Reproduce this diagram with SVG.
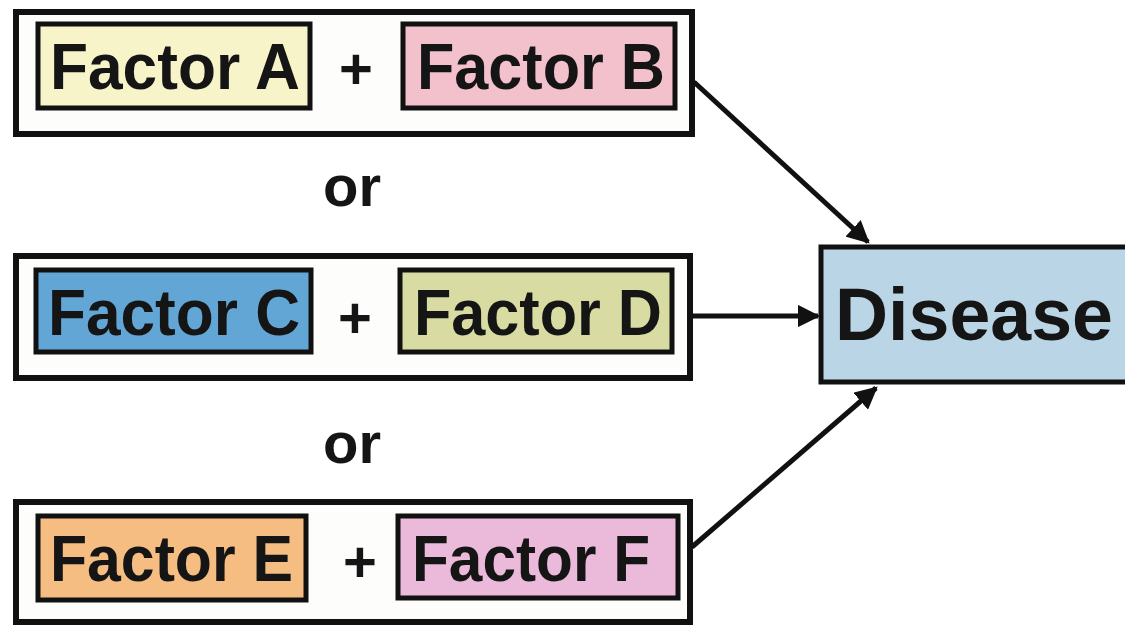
<svg xmlns="http://www.w3.org/2000/svg" width="1125" height="626" viewBox="0 0 1125 626">
<defs>
<style>
.outer{fill:#fdfdfb;stroke:#111;stroke-width:6}
.inner{stroke:#111;stroke-width:5}
.t{font-family:"Liberation Sans",Arial,sans-serif;font-weight:bold;fill:#151515}
.f{font-size:65px}
.op{font-size:58px;text-anchor:middle}
.conn{stroke:#111;stroke-width:5;fill:none;marker-end:url(#ah)}
</style>
<marker id="ah" viewBox="0 0 10 10" refX="9" refY="5" markerWidth="4.5" markerHeight="4.5" orient="auto" markerUnits="strokeWidth">
<path d="M0,0 L10,5 L0,10 z" fill="#111"/>
</marker>
</defs>
<rect width="1125" height="626" fill="#ffffff"/>
<g id="group1">
<rect class="outer" x="16" y="12" width="676" height="122"/>
<rect class="inner" x="38" y="24" width="272" height="84" fill="#f7f4c9"/>
<rect class="inner" x="403" y="24" width="272" height="84" fill="#f2c1cc"/>
<text class="t f" x="50" y="89" textLength="250" lengthAdjust="spacingAndGlyphs">Factor A</text>
<text class="t op" x="356" y="89">+</text>
<text class="t f" x="417" y="89" textLength="248" lengthAdjust="spacingAndGlyphs">Factor B</text>
</g>
<g id="or1"><text class="t op" x="352" y="206">or</text></g>
<g id="group2">
<rect class="outer" x="16" y="256" width="674" height="122"/>
<rect class="inner" x="36" y="270" width="275" height="82" fill="#62a6d6"/>
<rect class="inner" x="400" y="270" width="272" height="82" fill="#d8dca2"/>
<text class="t f" x="48" y="335" textLength="252" lengthAdjust="spacingAndGlyphs">Factor C</text>
<text class="t op" x="355" y="338">+</text>
<text class="t f" x="414" y="335" textLength="248" lengthAdjust="spacingAndGlyphs">Factor D</text>
</g>
<g id="or2"><text class="t op" x="352" y="463">or</text></g>
<g id="group3">
<rect class="outer" x="16" y="502" width="674" height="120"/>
<rect class="inner" x="38" y="516" width="268" height="84" fill="#f5bd82"/>
<rect class="inner" x="398" y="516" width="280" height="82" fill="#ebb9d9"/>
<text class="t f" x="50" y="581" textLength="243" lengthAdjust="spacingAndGlyphs">Factor E</text>
<text class="t op" x="360" y="582">+</text>
<text class="t f" x="412" y="581" textLength="238" lengthAdjust="spacingAndGlyphs">Factor F</text>
</g>
<g id="disease">
<rect class="inner" x="821" y="247" width="310" height="135" fill="#b9d5e6" stroke-width="6"/>
<text class="t" x="835" y="340" font-size="74" textLength="278" lengthAdjust="spacingAndGlyphs">Disease</text>
</g>
<g id="connectors">
<line class="conn" x1="694" y1="82" x2="868" y2="242"/>
<line class="conn" x1="692" y1="316" x2="818" y2="316"/>
<line class="conn" x1="692" y1="547" x2="876" y2="388"/>
</g>
</svg>
